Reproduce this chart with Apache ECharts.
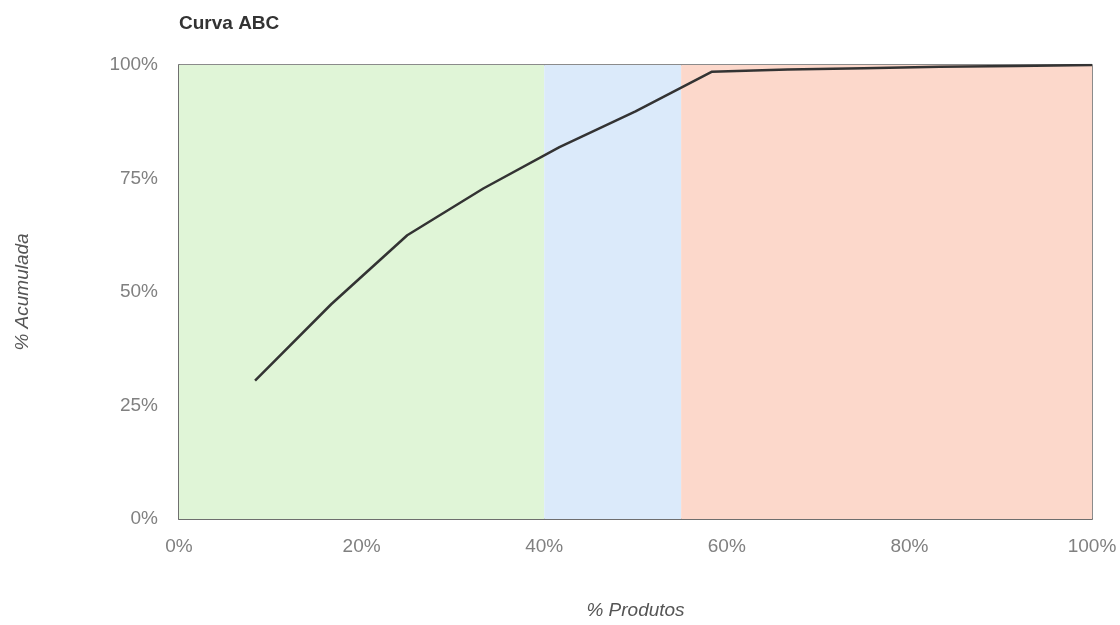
<!DOCTYPE html>
<html>
<head>
<meta charset="utf-8">
<script src="https://cdn.jsdelivr.net/npm/echarts@6/dist/echarts.min.js"></script>
<style>html,body{margin:0;padding:0;background:#fff}#c{width:1120px;height:625px}</style>
</head>
<body>
<div id="c"></div>
<script>
const produtosPct = [8.33, 16.67, 25, 33.33, 41.67, 50, 58.33, 66.67, 75, 83.33, 91.67, 100];
const acumuladaPct = [30.5, 47.3, 62.5, 72.8, 81.9, 89.8, 98.5, 99.0, 99.3, 99.6, 99.8, 100];
const classBands = [
  { name: 'A', from: 0, to: 40, color: '#e0f5d7' },
  { name: 'B', from: 40, to: 55, color: '#dbeafa' },
  { name: 'C', from: 55, to: 100, color: '#fcd8cb' }
];
const chart = echarts.init(document.getElementById('c'));
chart.setOption({
  animation: false,
  backgroundColor: '#ffffff',
  title: {
    text: 'Curva ABC', left: 174, top: 9,
    textStyle: { fontFamily: 'Liberation Sans', fontSize: 19, fontWeight: 'bold', color: '#333' }
  },
  grid: { left: 179, right: 28, top: 65, bottom: 98, show: true, borderColor: '#666', borderWidth: 1.5, backgroundColor: 'transparent' },
  xAxis: {
    type: 'value', min: 0, max: 100, interval: 20,
    name: '% Produtos', nameLocation: 'middle', nameGap: 82,
    nameTextStyle: { fontFamily: 'Liberation Sans', fontSize: 19, fontStyle: 'italic', color: '#555' },
    axisLine: { show: true, lineStyle: { color: '#666', width: 1.5 } },
    axisTick: { show: false },
    splitLine: { show: false },
    axisLabel: { formatter: '{value}%', margin: 18, fontFamily: 'Liberation Sans', fontSize: 19, color: '#808080' }
  },
  yAxis: {
    type: 'value', min: 0, max: 100, interval: 25,
    name: '% Acumulada', nameLocation: 'middle', nameGap: 147, nameRotate: 90,
    nameTextStyle: { fontFamily: 'Liberation Sans', fontSize: 19, fontStyle: 'italic', color: '#555' },
    axisLine: { show: true, lineStyle: { color: '#666', width: 1.5 } },
    axisTick: { show: false },
    splitLine: { show: false },
    axisLabel: { formatter: '{value}%', margin: 21, fontFamily: 'Liberation Sans', fontSize: 19, color: '#808080' }
  },
  series: [{
    type: 'line',
    data: produtosPct.map((x, i) => [x, acumuladaPct[i]]),
    showSymbol: false,
    lineStyle: { color: '#333', width: 2.5 },
    markArea: {
      silent: true,
      data: classBands.map(b => [
        { xAxis: b.from, yAxis: 0, itemStyle: { color: b.color } },
        { xAxis: b.to, yAxis: 100 }
      ])
    }
  }]
});
</script>
</body>
</html>
